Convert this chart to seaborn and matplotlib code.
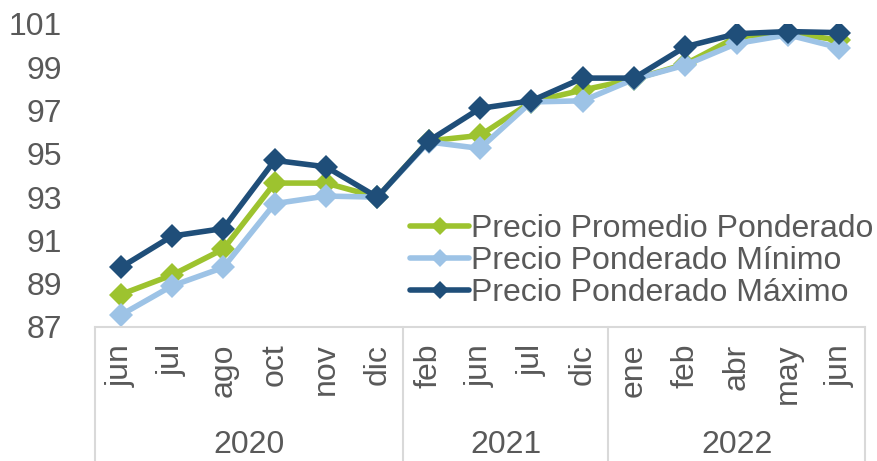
import matplotlib
matplotlib.use("Agg")
import matplotlib.pyplot as plt
import seaborn as sns
import pandas as pd
from matplotlib.lines import Line2D

# data
months = ["jun", "jul", "ago", "oct", "nov", "dic",
          "feb", "jun", "jul", "dic",
          "ene", "feb", "abr", "may", "jun"]
years = ["2020", "2021", "2022"]
months_per_year = [6, 4, 5]

promedio = [88.5, 89.4, 90.6, 93.65, 93.65, 93.0,
            95.6, 95.85, 97.4, 97.95,
            98.45, 99.15, 100.4, 100.6, 100.25]
minimo = [87.55, 88.9, 89.75, 92.7, 93.05, 93.0,
          95.55, 95.25, 97.4, 97.45,
          98.45, 99.1, 100.1, 100.5, 99.9]
maximo = [89.75, 91.2, 91.55, 94.7, 94.4, 93.0,
          95.6, 97.1, 97.45, 98.5,
          98.5, 99.95, 100.55, 100.65, 100.6]

series_names = ["Precio Promedio Ponderado", "Precio Ponderado Mínimo", "Precio Ponderado Máximo"]
colors = ["#9DC32F", "#9DC3E6", "#1F4E79"]

rows = []
for name, vals in zip(series_names, [promedio, minimo, maximo]):
    for i, v in enumerate(vals):
        rows.append({"pos": i, "valor": v, "serie": name})
df = pd.DataFrame(rows)

sns.set_theme(style="white")
plt.rcParams["font.family"] = ["Liberation Sans", "DejaVu Sans"]
text_color = "#595959"
grid_color = "#D9D9D9"

fig = plt.figure(figsize=(8.77, 4.61), dpi=100)
ax = fig.add_axes([95 / 877, 1 - 327 / 461, 770 / 877, 303 / 461])

sns.lineplot(data=df, x="pos", y="valor", hue="serie", hue_order=series_names,
             palette=colors, style="serie", markers=["D", "D", "D"], dashes=False,
             linewidth=4, markersize=12, markeredgewidth=0, ax=ax)

ax.set_xlim(-0.5, len(months) - 0.5)
ax.set_ylim(87, 101)
ax.set_yticks(range(87, 102, 2))
ax.tick_params(axis="y", labelsize=23, labelcolor=text_color, length=0, pad=24)
ax.set_xticks([])
ax.set_xlabel("")
ax.set_ylabel("")
for s in ["top", "right", "left"]:
    ax.spines[s].set_visible(False)
ax.spines["bottom"].set_color(grid_color)
ax.spines["bottom"].set_linewidth(1.5)

# category axis: months then years
trans = ax.get_xaxis_transform()
for i, m in enumerate(months):
    ax.text(i, -0.055, m, transform=trans, rotation=90, ha="center", va="top",
            fontsize=23, color=text_color)

start = 0
bounds = [-0.5]
for y, n in zip(years, months_per_year):
    ax.text(start + (n - 1) / 2, -0.39, y, transform=trans, ha="center", va="center",
            fontsize=23, color=text_color)
    start += n
    bounds.append(start - 0.5)
for b in bounds:
    ax.add_line(Line2D([b, b], [0, -0.45], transform=trans, color=grid_color,
                       linewidth=1.5, clip_on=False))

ax.legend(loc="upper left", bbox_to_anchor=(410 / 877, 1 - 214 / 461),
          bbox_transform=fig.transFigure, frameon=False, fontsize=23,
          handlelength=1.85, handletextpad=0.05, labelspacing=0.06, borderpad=0,
          borderaxespad=0, labelcolor=text_color, markerscale=0.8)

fig.savefig("out.png", dpi=100)
